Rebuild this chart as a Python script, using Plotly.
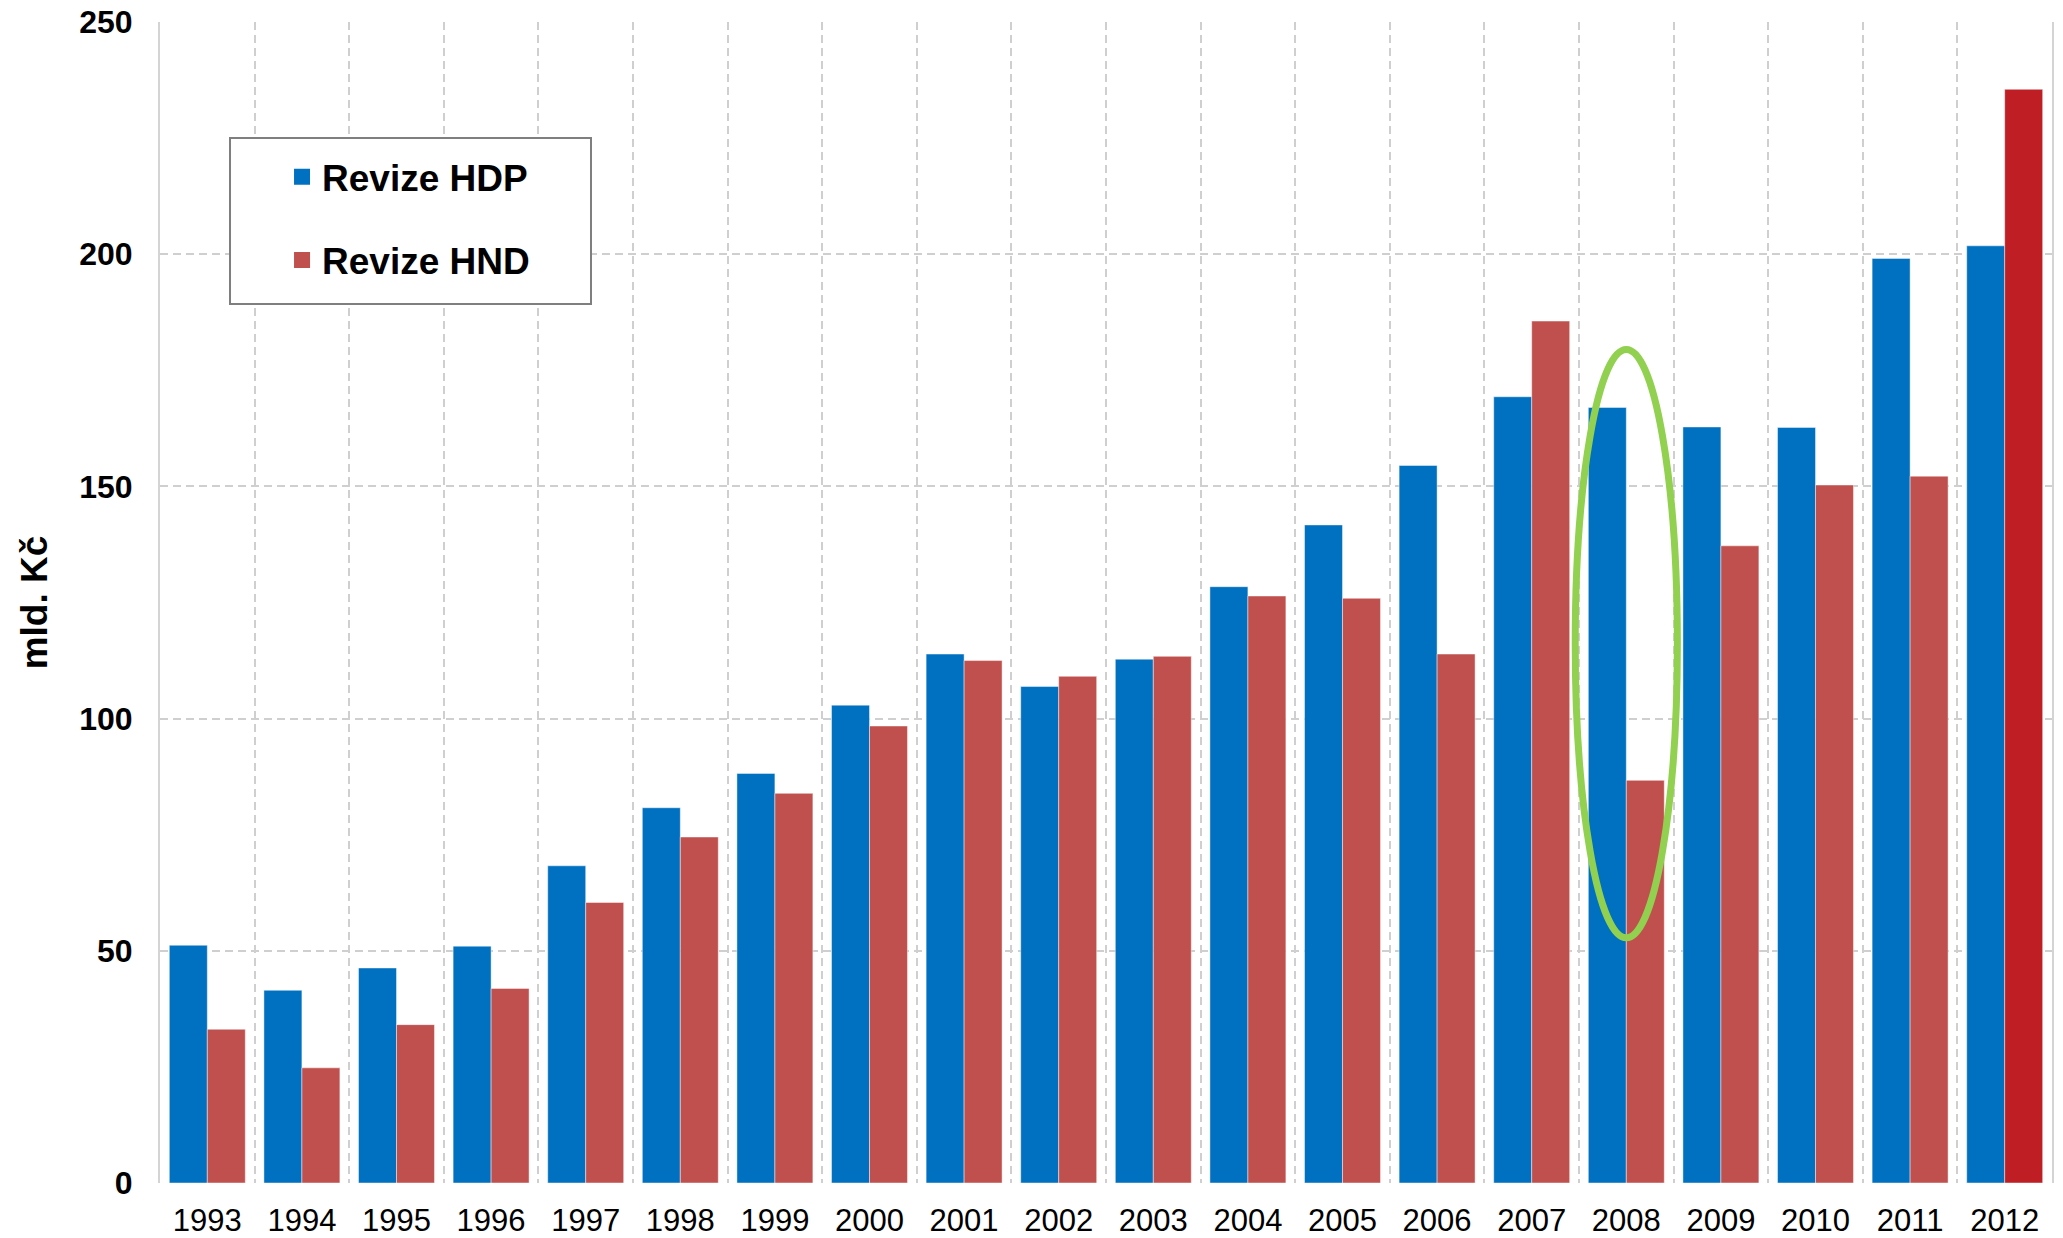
import plotly.graph_objects as go

years = [str(y) for y in range(1993, 2013)]
hdp = [51.2, 41.5, 46.3, 51.0, 68.3, 80.8, 88.2, 102.9, 113.9, 106.9,
       112.8, 128.4, 141.7, 154.5, 169.3, 167.0, 162.8, 162.7, 199.1, 201.8]
hnd = [33.1, 24.8, 34.1, 41.9, 60.4, 74.5, 83.9, 98.4, 112.5, 109.1,
       113.4, 126.4, 125.9, 113.9, 185.6, 86.7, 137.2, 150.3, 152.2, 235.5]
y_ticks = [0, 50, 100, 150, 200, 250]
highlight_year = "2008"
highlight_range = [52.8, 179.5]

BLUE = "#0070C0"
RED = "#C0504D"
DARK_RED = "#BE1E24"
GRID = "#cfcfcf"
FONT = "Liberation Sans, Arial, sans-serif"

hnd_colors = [RED] * (len(years) - 1) + [DARK_RED]
edge = dict(color="rgba(255,255,255,0.45)", width=1)

fig = go.Figure()
fig.add_trace(go.Bar(x=years, y=hdp, name="Revize HDP", showlegend=False,
                     marker=dict(color=BLUE, line=edge)))
fig.add_trace(go.Bar(x=years, y=hnd, name="Revize HND", showlegend=False,
                     marker=dict(color=hnd_colors, line=edge)))

# legend entries (square swatches)
for name, col, grp in [("Revize HDP", BLUE, "a"), ("Revize HND", RED, "b")]:
    fig.add_trace(go.Scatter(x=[None], y=[None], mode="markers", name=name,
                             legendgroup=grp, showlegend=True,
                             marker=dict(symbol="square", size=19, color=col)))

idx = years.index(highlight_year)
fig.add_shape(type="circle", xref="x", yref="y",
              x0=idx - 0.54, x1=idx + 0.54,
              y0=highlight_range[0], y1=highlight_range[1],
              line=dict(color="#92D050", width=7), layer="above")

# legend frame
fig.add_shape(type="rect", xref="paper", yref="paper",
              x0=0.037, x1=0.2278, y0=0.7571, y1=0.9001,
              line=dict(color="#7f7f7f", width=2), fillcolor="white", layer="above")

fig.update_layout(
    width=2063, height=1238,
    margin=dict(l=160, r=11, t=22, b=55),
    paper_bgcolor="white", plot_bgcolor="white",
    barmode="group", bargap=0.197, bargroupgap=0,
    font=dict(family=FONT, color="black"),
    legend=dict(
        x=0.0645, y=0.893, xanchor="left", yanchor="top",
        bgcolor="rgba(0,0,0,0)", borderwidth=0,
        font=dict(size=37, weight="bold", family=FONT),
        tracegroupgap=32, traceorder="grouped", itemsizing="trace",
    ),
    showlegend=True,
)

fig.update_xaxes(
    type="category", tickson="boundaries", automargin=False,
    showgrid=True, gridcolor=GRID, gridwidth=2, griddash="8px,5px",
    ticks="", showline=False, zeroline=False,
    tickfont=dict(size=31, family=FONT),
    ticklabelstandoff=16,
    range=[-0.5, len(years) - 0.5],
)
fig.update_yaxes(
    range=[0, 250], tickvals=y_ticks, automargin=False,
    showgrid=True, gridcolor=GRID, gridwidth=2, griddash="8px,5px",
    zeroline=False, showline=True, linecolor="#d4d4d4", linewidth=2, mirror=True,
    ticks="", tickfont=dict(size=32, weight="bold", family=FONT),
    ticklabelstandoff=19,
    title=dict(text="mld. Kč", font=dict(size=37, weight="bold", family=FONT), standoff=20),
)

fig.write_html("out.html", config={"displayModeBar": False},
               post_script="document.body.style.margin='0';document.body.style.overflow='hidden';")
